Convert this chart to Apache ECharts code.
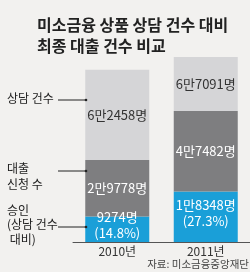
<!DOCTYPE html>
<html><head><meta charset="utf-8">
<script src="https://cdn.jsdelivr.net/npm/echarts@6/dist/echarts.min.js"></script>
<style>html,body{margin:0;padding:0;background:#f2f1ef}#c{width:250px;height:272px}</style>
</head><body><div id="c"></div>
<script>
var categories = ['2010년', '2011년'];
var consultations = [62458, 67091];
var applications = [29778, 47482];
var approvals = [9274, 18348];
var consultLabels = ['6만2458명', '6만7091명'];
var applyLabels = ['2만9778명', '4만7482명'];
var approveLabels = ['9274명\n(14.8%)', '1만8348명\n(27.3%)'];

var font = '"Noto Sans CJK KR", sans-serif';
var chart = echarts.init(document.getElementById('c'), null, {renderer: 'canvas'});
var seg1 = approvals.slice();
var seg2 = applications.map(function (v, i) { return v - approvals[i]; });
var seg3 = consultations.map(function (v, i) { return v - applications[i]; });

function annotLine(y) {
  return [
    {type: 'line', shape: {x1: 58, y1: y, x2: 86, y2: y}, style: {stroke: '#222', lineWidth: 1}, z: 10},
    {type: 'circle', shape: {cx: 86, cy: y, r: 1.3}, style: {fill: '#222'}, z: 10}
  ];
}

chart.setOption({
  backgroundColor: '#f2f1ef',
  animation: false,
  title: {
    text: '미소금융 상품 상담 건수 대비\n최종 대출 건수 비교',
    left: 32, top: 9,
    textStyle: {fontFamily: font, fontSize: 16, fontWeight: 'bold', color: '#222', lineHeight: 21}
  },
  grid: {left: 73, right: -3, top: 57, bottom: 30},
  xAxis: {
    type: 'category', data: categories,
    axisLine: {lineStyle: {color: '#555', width: 1}},
    axisTick: {show: false},
    axisLabel: {fontFamily: font, fontSize: 12, color: '#333', margin: 3}
  },
  yAxis: {type: 'value', min: 0, max: consultations[1], show: false, splitLine: {show: false}},
  series: [
    {type: 'bar', stack: 's', data: seg1, barWidth: 64, itemStyle: {color: '#1a9fd8'},
     label: {show: true, position: 'inside', offset: [0, -4], fontFamily: font, fontSize: 13, lineHeight: 16, color: '#fff',
       formatter: function (p) { return approveLabels[p.dataIndex]; }}},
    {type: 'bar', stack: 's', data: seg2, barWidth: 64, itemStyle: {color: '#7e7e80'},
     label: {show: true, position: 'inside', fontFamily: font, fontSize: 13, color: '#fff',
       formatter: function (p) { return applyLabels[p.dataIndex]; }}},
    {type: 'bar', stack: 's', data: seg3, barWidth: 64, itemStyle: {color: '#d5d5d7'},
     label: {show: true, position: 'inside', fontFamily: font, fontSize: 13, color: '#333',
       formatter: function (p) { return consultLabels[p.dataIndex]; }}}
  ],
  graphic: [
    {type: 'text', left: 7, top: 92, style: {text: '상담 건수', font: '12px ' + font, fill: '#222'}},
    {type: 'text', left: 7, top: 160, style: {text: '대출\n신청 수', font: '12px ' + font, fill: '#222', lineHeight: 16}},
    {type: 'text', left: 7, top: 203, style: {text: '승인\n(상담 건수\n 대비)', font: '12px ' + font, fill: '#222', lineHeight: 14.5}},
    {type: 'text', right: 1, top: 259, style: {text: '자료: 미소금융중앙재단', font: '10.5px ' + font, fill: '#444'}}
  ].concat(annotLine(100), annotLine(171), annotLine(227))
});
</script></body></html>
